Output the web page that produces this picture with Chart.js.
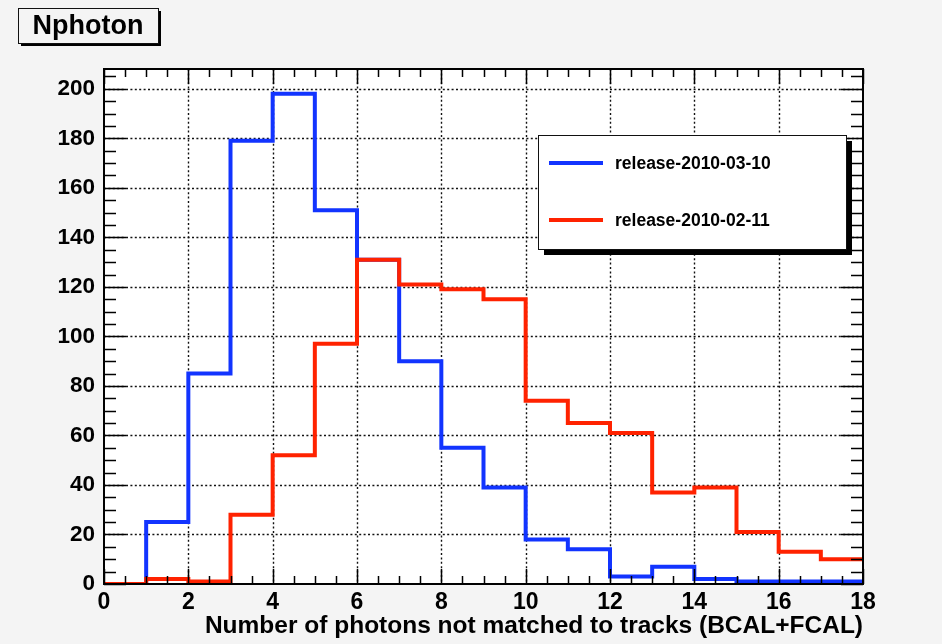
<!DOCTYPE html>
<html>
<head>
<meta charset="utf-8">
<script src="https://cdn.jsdelivr.net/npm/chart.js@4/dist/chart.umd.min.js"></script>
<style>
  html, body { margin: 0; padding: 0; background: #f4f4f4; }
  #wrap { width: 942px; height: 644px; }
</style>
</head>
<body>
<div id="wrap"><canvas id="c" width="942" height="644"></canvas></div>
<script>
// Histogram content: one count per unit-wide bin from 0 to 18
const histTitle = 'Nphoton';
const xAxisTitle = 'Number of photons not matched to tracks (BCAL+FCAL)';
const seriesNames = ['release-2010-03-10', 'release-2010-02-11'];
const binEdges = [0, 1, 2, 3, 4, 5, 6, 7, 8, 9, 10, 11, 12, 13, 14, 15, 16, 17, 18];
const countsNew = [0, 25, 85, 179, 198, 151, 131, 90, 55, 39, 18, 14, 3, 7, 2, 1, 1, 1];
const countsOld = [0, 2, 1, 28, 52, 97, 131, 121, 119, 115, 74, 65, 61, 37, 39, 21, 13, 10];
const xTickValues = [0, 2, 4, 6, 8, 10, 12, 14, 16, 18];
const yTickValues = [0, 20, 40, 60, 80, 100, 120, 140, 160, 180, 200];
const seriesColors = ['#1234ff', '#ff2200'];

const FONT = '"Liberation Sans", Arial, Helvetica, sans-serif';

// Step outline: a point at every bin's low edge, plus the final high edge
function stepPoints(counts) {
  const pts = counts.map((v, i) => ({ x: binEdges[i], y: v }));
  pts.push({ x: binEdges[binEdges.length - 1], y: counts[counts.length - 1] });
  return pts;
}

const rootStyle = {
  id: 'rootStyle',
  beforeDraw(chart) {
    const { ctx, chartArea: a } = chart;
    ctx.save();
    ctx.fillStyle = '#f4f4f4';
    ctx.fillRect(0, 0, chart.width, chart.height);
    ctx.fillStyle = '#ffffff';
    ctx.fillRect(a.left, a.top, a.right - a.left, a.bottom - a.top);
    ctx.restore();
  },
  beforeDatasetsDraw(chart) {
    // dotted grid at the labelled ticks
    const { ctx, chartArea: a, scales } = chart;
    ctx.save();
    ctx.strokeStyle = '#111';
    ctx.lineWidth = 1.4;
    ctx.setLineDash([2, 2.4]);
    xTickValues.forEach(v => {
      const px = Math.round(scales.x.getPixelForValue(v)) + 0.5;
      if (px <= a.left + 2 || px >= a.right - 2) return;
      ctx.beginPath(); ctx.moveTo(px, a.top); ctx.lineTo(px, a.bottom); ctx.stroke();
    });
    yTickValues.forEach(v => {
      const py = Math.round(scales.y.getPixelForValue(v)) + 0.5;
      if (py <= a.top + 2 || py >= a.bottom - 2) return;
      ctx.beginPath(); ctx.moveTo(a.left, py); ctx.lineTo(a.right, py); ctx.stroke();
    });
    ctx.restore();
  },
  afterDatasetsDraw(chart) {
    const { ctx, chartArea: a, scales } = chart;
    ctx.save();
    ctx.strokeStyle = '#000';
    ctx.lineWidth = 1.5;
    ctx.setLineDash([]);
    // inward tick marks on all four sides
    const xs = scales.x, ys = scales.y;
    for (let v = xs.min; v <= xs.max + 1e-9; v += 0.5) {
      const px = Math.round(xs.getPixelForValue(v)) + 0.5;
      const major = Math.abs(v / 2 - Math.round(v / 2)) < 1e-6;
      const len = major ? 15 : 8;
      ctx.beginPath();
      ctx.moveTo(px, a.bottom); ctx.lineTo(px, a.bottom - len);
      ctx.moveTo(px, a.top); ctx.lineTo(px, a.top + len);
      ctx.stroke();
    }
    for (let v = 0; v <= ys.max + 1e-9; v += 5) {
      const py = Math.round(ys.getPixelForValue(v)) + 0.5;
      const major = v % 20 === 0;
      const len = major ? 22 : 12;
      ctx.beginPath();
      ctx.moveTo(a.left, py); ctx.lineTo(a.left + len, py);
      ctx.moveTo(a.right, py); ctx.lineTo(a.right - len, py);
      ctx.stroke();
    }
    // frame
    ctx.lineWidth = 2;
    ctx.strokeRect(a.left, a.top, a.right - a.left, a.bottom - a.top);

    // legend box with drop shadow
    const lx = 538, ly = 135, lw = 308, lh = 114;
    ctx.fillStyle = '#000';
    ctx.fillRect(lx + 6, ly + 6, lw, lh);
    ctx.fillStyle = '#fff';
    ctx.fillRect(lx, ly, lw, lh);
    ctx.lineWidth = 1;
    ctx.strokeStyle = '#111';
    ctx.strokeRect(lx + 0.5, ly + 0.5, lw, lh);
    const rows = [163, 220];
    chart.data.datasets.forEach((ds, i) => {
      ctx.strokeStyle = ds.borderColor;
      ctx.lineWidth = 4;
      ctx.beginPath(); ctx.moveTo(549, rows[i]); ctx.lineTo(603, rows[i]); ctx.stroke();
      ctx.fillStyle = '#000';
      ctx.font = 'bold 17.5px ' + FONT;
      ctx.textAlign = 'left';
      ctx.textBaseline = 'middle';
      ctx.fillText(ds.label, 615, rows[i] + 1);
    });

    // histogram title box
    const tx = 18, ty = 8, tw = 140, th = 35;
    ctx.fillStyle = '#000';
    ctx.fillRect(tx + 3, ty + 3, tw, th);
    ctx.fillStyle = '#f4f4f4';
    ctx.fillRect(tx, ty, tw, th);
    ctx.strokeStyle = '#111';
    ctx.lineWidth = 1;
    ctx.strokeRect(tx + 0.5, ty + 0.5, tw, th);
    ctx.fillStyle = '#000';
    ctx.font = 'bold 27px ' + FONT;
    ctx.textAlign = 'center';
    ctx.textBaseline = 'middle';
    ctx.fillText(histTitle, tx + tw / 2, ty + th / 2 + 1);
    ctx.restore();
  }
};

new Chart(document.getElementById('c'), {
  type: 'line',
  data: {
    datasets: [
      {
        label: seriesNames[0],
        data: stepPoints(countsNew),
        borderColor: seriesColors[0],
        borderWidth: 4,
        stepped: 'before',
        pointRadius: 0,
        fill: false,
        order: 1,
        borderJoinStyle: 'miter',
        borderCapStyle: 'butt'
      },
      {
        label: seriesNames[1],
        data: stepPoints(countsOld),
        borderColor: seriesColors[1],
        borderWidth: 4,
        stepped: 'before',
        pointRadius: 0,
        fill: false,
        order: 0,
        borderJoinStyle: 'miter',
        borderCapStyle: 'butt'
      }
    ]
  },
  options: {
    responsive: false,
    animation: false,
    devicePixelRatio: 1,
    layout: { padding: { top: 69, right: 79, left: 0, bottom: 0 } },
    plugins: { legend: { display: false }, tooltip: { enabled: false }, title: { display: false } },
    scales: {
      x: {
        type: 'linear',
        min: 0,
        max: 18,
        afterBuildTicks: s => { s.ticks = xTickValues.map(v => ({ value: v })); },
        afterFit: s => { s.height = 60; },
        grid: { display: false, drawTicks: false },
        border: { display: false },
        ticks: {
          color: '#000',
          padding: 5,
          maxRotation: 0,
          autoSkip: false,
          font: { family: FONT, size: 23, weight: 'bold' }
        },
        title: {
          display: true,
          text: xAxisTitle,
          align: 'end',
          color: '#000',
          font: { family: FONT, size: 24.5, weight: 'bold' },
          padding: { top: 0, bottom: 3 }
        }
      },
      y: {
        type: 'linear',
        min: 0,
        max: 208,
        afterBuildTicks: s => { s.ticks = yTickValues.map(v => ({ value: v })); },
        afterFit: s => { s.width = 104; },
        grid: { display: false, drawTicks: false },
        border: { display: false },
        ticks: {
          color: '#000',
          padding: 9,
          font: { family: FONT, size: 22.5, weight: 'bold' }
        }
      }
    }
  },
  plugins: [rootStyle]
});
</script>
</body>
</html>
